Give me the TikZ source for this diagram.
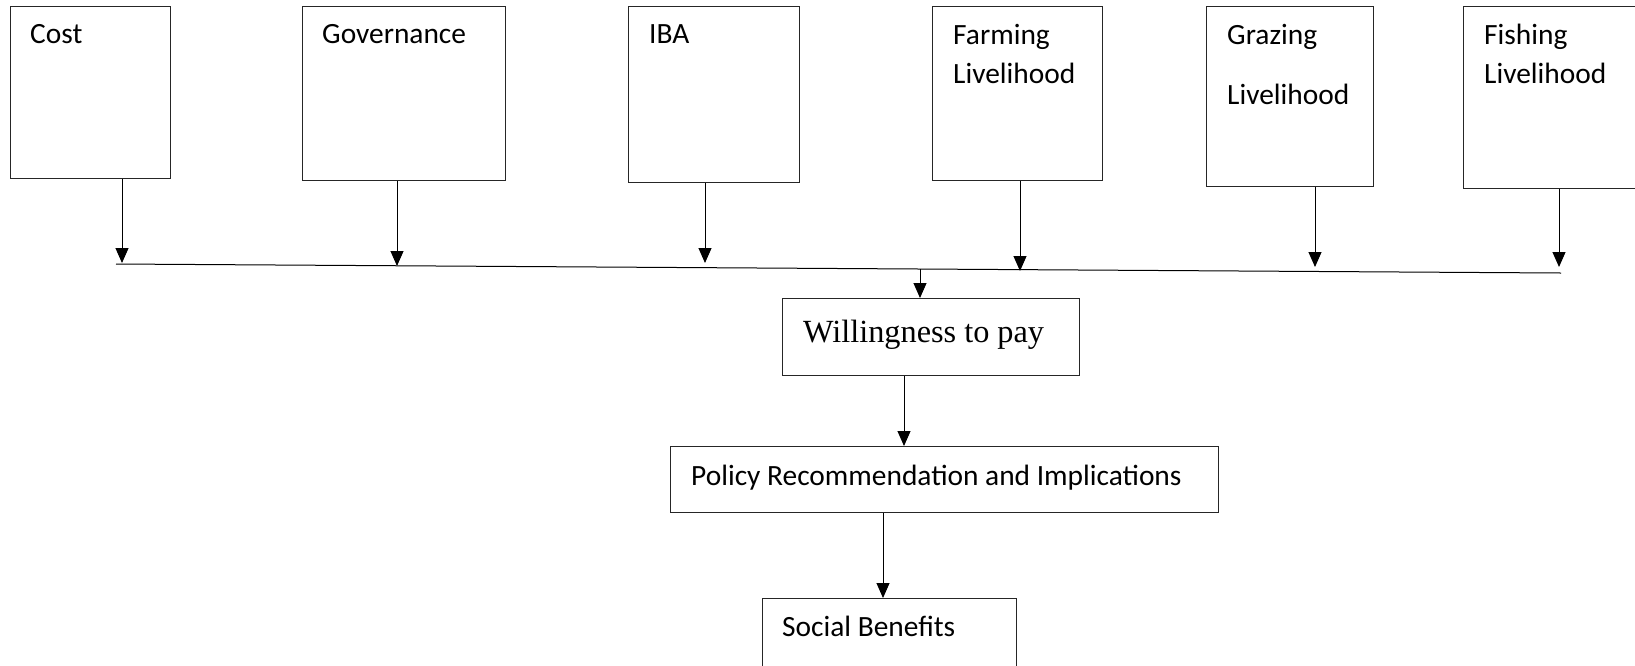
\documentclass[tikz,border=0pt]{standalone}
\usepackage{fontspec}
\setmainfont{Carlito}
\newfontfamily\wtpfont{Liberation Serif}
\usetikzlibrary{arrows.meta}

\tikzset{
  box/.style={draw=black!85, line width=1.1pt, anchor=north west, inner sep=0pt},
  lbl/.style={anchor=base west, inner sep=0pt, font=\fontsize{29.4}{35}\selectfont},
  arr/.style={line width=1pt, -{Triangle[width=13pt,length=15pt]}}
}

\begin{document}
\begin{tikzpicture}[x=1pt, y=-1pt]

\clip (0,0) rectangle (1635,665);

% top row of factors
\node[box, minimum width=160pt, minimum height=172pt] (cost) at (10,6) {};
\node[box, minimum width=203pt, minimum height=174pt] (gov) at (302,6) {};
\node[box, minimum width=171pt, minimum height=176pt] (iba) at (628,6) {};
\node[box, minimum width=170pt, minimum height=174pt] (farm) at (932,6) {};
\node[box, minimum width=167pt, minimum height=180pt] (graz) at (1206,6) {};
\node[box, minimum width=200pt, minimum height=182pt] (fish) at (1463,6) {};

\node[lbl] (costT) at (30,43) {Cost};
\node[lbl] (govT) at (322,43) {Governance};
\node[lbl] (ibaT) at (649,43) {IBA};
\node[lbl] (farmT) at (953,44) {Farming};
\node[lbl] (farmT2) at (953,83) {Livelihood};
\node[lbl] (grazT) at (1227,44) {Grazing};
\node[lbl] (grazT2) at (1227,104) {Livelihood};
\node[lbl] (fishT) at (1484,44) {Fishing};
\node[lbl] (fishT2) at (1484,83) {Livelihood};

% collecting line
\coordinate (barL) at (116,264);
\coordinate (barR) at (1561,273);
\draw[line width=1pt] (barL) -- (barR);

\coordinate (tCost) at (122,263);
\coordinate (tGov) at (397,266);
\coordinate (tIba) at (705,263);
\coordinate (tFarm) at (1020,271);
\coordinate (tGraz) at (1315,267);
\coordinate (tFish) at (1559,267);

\draw[arr] (cost.south -| tCost) -- (tCost);
\draw[arr] (gov.south -| tGov) -- (tGov);
\draw[arr] (iba.south -| tIba) -- (tIba);
\draw[arr] (farm.south -| tFarm) -- (tFarm);
\draw[arr] (graz.south -| tGraz) -- (tGraz);
\draw[arr] (fish.south -| tFish) -- (tFish);

% outcome chain
\node[box, minimum width=297pt, minimum height=77pt] (wtp) at (782,298) {};
\node[lbl, font=\wtpfont\fontsize{32.3}{38}\selectfont] (wtpT) at (803,342) {Willingness to pay};

\node[box, minimum width=548pt, minimum height=66pt] (pol) at (670,446) {};
\node[lbl] (polT) at (691,485) {Policy Recommendation and Implications};

\node[box, minimum width=254pt, minimum height=100pt] (soc) at (762,598) {};
\node[lbl] (socT) at (782,636) {Social Benefits};

\coordinate (barM) at (920,269);
\draw[arr] (barM) -- (wtp.north -| barM);

\coordinate (w2p) at (904,0);
\draw[arr] (wtp.south -| w2p) -- (pol.north -| w2p);

\coordinate (p2s) at (883,0);
\draw[arr] (pol.south -| p2s) -- (soc.north -| p2s);

\end{tikzpicture}
\end{document}
